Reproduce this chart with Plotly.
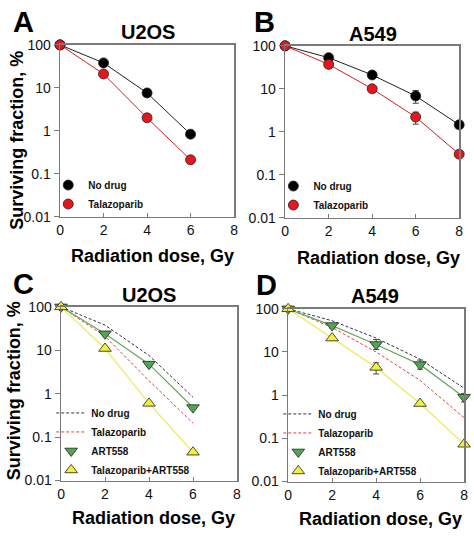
import plotly.graph_objects as go

# ---------------- data ----------------
dose_u2os = [0, 2, 4, 6]
dose_a549 = [0, 2, 4, 6, 8]

u2os_nodrug = [100, 38, 7.6, 0.83]
u2os_talaz = [100, 21, 2.0, 0.21]
u2os_art558 = [100, 24, 4.8, 0.48]
u2os_combo = [100, 11, 0.6, 0.045]

a549_nodrug = [100, 53, 21, 6.8, 1.45]
a549_nodrug_ep = [0, 0, 0, 2.3, 0]
a549_nodrug_em = [0, 0, 0, 2.2, 0]
a549_talaz = [100, 37, 10, 2.2, 0.3]
a549_talaz_ep = [0, 0, 0, 0.66, 0]
a549_talaz_em = [0, 0, 0, 0.7, 0]
a549_art558 = [100, 41, 14.9, 5.1, 0.9]
a549_art558_ep = [0, 5, 4.5, 1.4, 0.2]
a549_art558_em = [0, 5, 3.4, 1.1, 0.2]
a549_combo = [100, 21, 4.4, 0.64, 0.073]
a549_combo_ep = [0, 2, 1.2, 0, 0]
a549_combo_em = [0, 2, 1.3, 0, 0]

y_ticks = [0.01, 0.1, 1, 10, 100]
y_ticktext = ["0.01", "0.1", "1", "10", "100"]
x_ticks = [0, 2, 4, 6, 8]

FONT = "Liberation Sans, Arial, sans-serif"
BLACK = "#000000"
RED = "#e8161c"
GREEN = "#4fa84f"
GREEN_LINE = "#6aaa60"
YELLOW = "#f4f03a"
YELLOW_LINE = "#eeea6a"
W, H = 474, 540

fig = go.Figure()


def err(ep, em):
    return dict(type="data", symmetric=False, array=ep, arrayminus=em,
                color="#444444", thickness=1, width=3)


def line_trace(x, y, line_color, lw, symbol, size, color, xa, ya, ep=None, em=None):
    t = go.Scatter(
        x=x, y=y, mode="lines+markers", xaxis=xa, yaxis=ya, showlegend=False,
        cliponaxis=False, hoverinfo="skip",
        line=dict(color=line_color, width=lw),
        marker=dict(symbol=symbol, size=size, color=color,
                    line=dict(color="#222222", width=0.8)),
    )
    if ep is not None:
        t.error_y = err(ep, em)
    return t


def dashed_trace(x, y, color, xa, ya):
    return go.Scatter(
        x=x, y=y, mode="lines", xaxis=xa, yaxis=ya, showlegend=False,
        cliponaxis=False, hoverinfo="skip", line=dict(color=color, width=1, dash="3px,2px"),
    )


def legend_marker(name, symbol, size, color, legend):
    return go.Scatter(x=[None], y=[None], mode="markers", name=name, legend=legend,
                      marker=dict(symbol=symbol, size=size, color=color,
                                  line=dict(color="#222222", width=0.8)))


def legend_dash(name, color, legend):
    return go.Scatter(x=[None], y=[None], mode="lines", name=name, legend=legend,
                      line=dict(color=color, width=1, dash="3px,2px"))


# Panel A
fig.add_trace(line_trace(dose_u2os, u2os_nodrug, "#222222", 1, "circle", 10, BLACK, "x", "y"))
fig.add_trace(line_trace(dose_u2os, u2os_talaz, "#d02020", 1, "circle", 10, RED, "x", "y"))
# Panel B
fig.add_trace(line_trace(dose_a549, a549_nodrug, "#222222", 1, "circle", 10, BLACK, "x2", "y2",
                         a549_nodrug_ep, a549_nodrug_em))
fig.add_trace(line_trace(dose_a549, a549_talaz, "#d02020", 1, "circle", 10, RED, "x2", "y2",
                         a549_talaz_ep, a549_talaz_em))
# Panel C
fig.add_trace(dashed_trace(dose_u2os, u2os_nodrug, "#333344", "x3", "y3"))
fig.add_trace(dashed_trace(dose_u2os, u2os_talaz, "#e04040", "x3", "y3"))
fig.add_trace(line_trace(dose_u2os, u2os_art558, GREEN_LINE, 1.3, "triangle-down", 11, GREEN, "x3", "y3"))
fig.add_trace(line_trace(dose_u2os, u2os_combo, YELLOW_LINE, 1.3, "triangle-up", 11, YELLOW, "x3", "y3"))
# Panel D
fig.add_trace(dashed_trace(dose_a549, a549_nodrug, "#333344", "x4", "y4"))
fig.add_trace(dashed_trace(dose_a549, a549_talaz, "#e04040", "x4", "y4"))
fig.add_trace(line_trace(dose_a549, a549_art558, GREEN_LINE, 1.3, "triangle-down", 11, GREEN, "x4", "y4",
                         a549_art558_ep, a549_art558_em))
fig.add_trace(line_trace(dose_a549, a549_combo, YELLOW_LINE, 1.3, "triangle-up", 11, YELLOW, "x4", "y4",
                         a549_combo_ep, a549_combo_em))

# legend entries
for lg in ["legend", "legend2"]:
    fig.add_trace(legend_marker("No drug", "circle", 10, BLACK, lg))
    fig.add_trace(legend_marker("Talazoparib", "circle", 10, RED, lg))
for lg in ["legend3", "legend4"]:
    fig.add_trace(legend_dash("No drug", "#333344", lg))
    fig.add_trace(legend_dash("Talazoparib", "#e04040", lg))
    fig.add_trace(legend_marker("ART558", "triangle-down", 11, GREEN, lg))
    fig.add_trace(legend_marker("Talazoparib+ART558", "triangle-up", 11, YELLOW, lg))

# plot areas in pixels: (left, right, top, bottom)
boxes = {
    "": (57, 234, 38, 215),
    "2": (286, 463, 39, 216),
    "3": (58, 237, 308, 487),
    "4": (289, 468, 310, 488),
}

line_common = dict(showline=True, mirror=True, linecolor="#7a7a7a", linewidth=1.5,
                   showgrid=False, zeroline=False, tickcolor="#7a7a7a",
                   tickfont=dict(family=FONT, size=14, color="#111111"))

layout = dict(width=W, height=H, margin=dict(l=0, r=0, t=0, b=0),
              plot_bgcolor="white", paper_bgcolor="white",
              font=dict(family=FONT, color="#111111"), hovermode=False)

for k, (l, r, t, b) in boxes.items():
    layout["xaxis" + k] = dict(domain=[l / W, r / W], range=[0, 8], tickvals=x_ticks,
                               anchor="y" + k, ticks="inside", ticklen=4, **line_common)
    layout["yaxis" + k] = dict(domain=[1 - b / H, 1 - t / H], type="log", range=[-2, 2],
                               tickvals=y_ticks, ticktext=y_ticktext, anchor="x" + k,
                               ticks="outside", ticklen=5, **line_common)

leg_font = dict(family=FONT, size=10, color="#111111", weight="bold")
legend_common = dict(bgcolor="rgba(0,0,0,0)", font=leg_font, xanchor="left", yanchor="bottom",
                     tracegroupgap=0)
layout["legend"] = dict(x=45 / W, y=1 - 217 / H, **legend_common)
layout["legend2"] = dict(x=274 / W, y=1 - 218 / H, **legend_common)
layout["legend3"] = dict(x=48 / W, y=1 - 491 / H, **legend_common)
layout["legend4"] = dict(x=279 / W, y=1 - 492 / H, **legend_common)
layout["showlegend"] = True

fig.update_layout(**layout)


def ann(text, x, y, size, angle=0):
    fig.add_annotation(text=text, x=x / W, y=1 - y / H, xref="paper", yref="paper",
                       showarrow=False, textangle=angle, xanchor="center", yanchor="middle",
                       font=dict(family=FONT, size=size, color="#000000", weight="bold"))


# panel letters
ann("A", 20, 14, 29)
ann("B", 265, 14, 29)
ann("C", 20, 284, 29)
ann("D", 267, 285, 29)
# titles
ann("U2OS", 146, 25, 20)
ann("A549", 375, 27, 20)
ann("U2OS", 147, 296, 20)
ann("A549", 377, 297, 20)
# x titles
ann("Radiation dose, Gy", 151, 256, 18)
ann("Radiation dose, Gy", 381, 258, 18)
ann("Radiation dose, Gy", 152, 526, 18)
ann("Radiation dose, Gy", 383, 527, 18)
# y titles
ann("Surviving fraction, %", 13, 136, 18, -90)
ann("Surviving fraction, %", 10, 394, 18, -90)

fig.write_html("out.html", config={"displayModeBar": False, "staticPlot": True},
               post_script="document.body.style.margin='0';document.body.style.overflow='hidden';")
